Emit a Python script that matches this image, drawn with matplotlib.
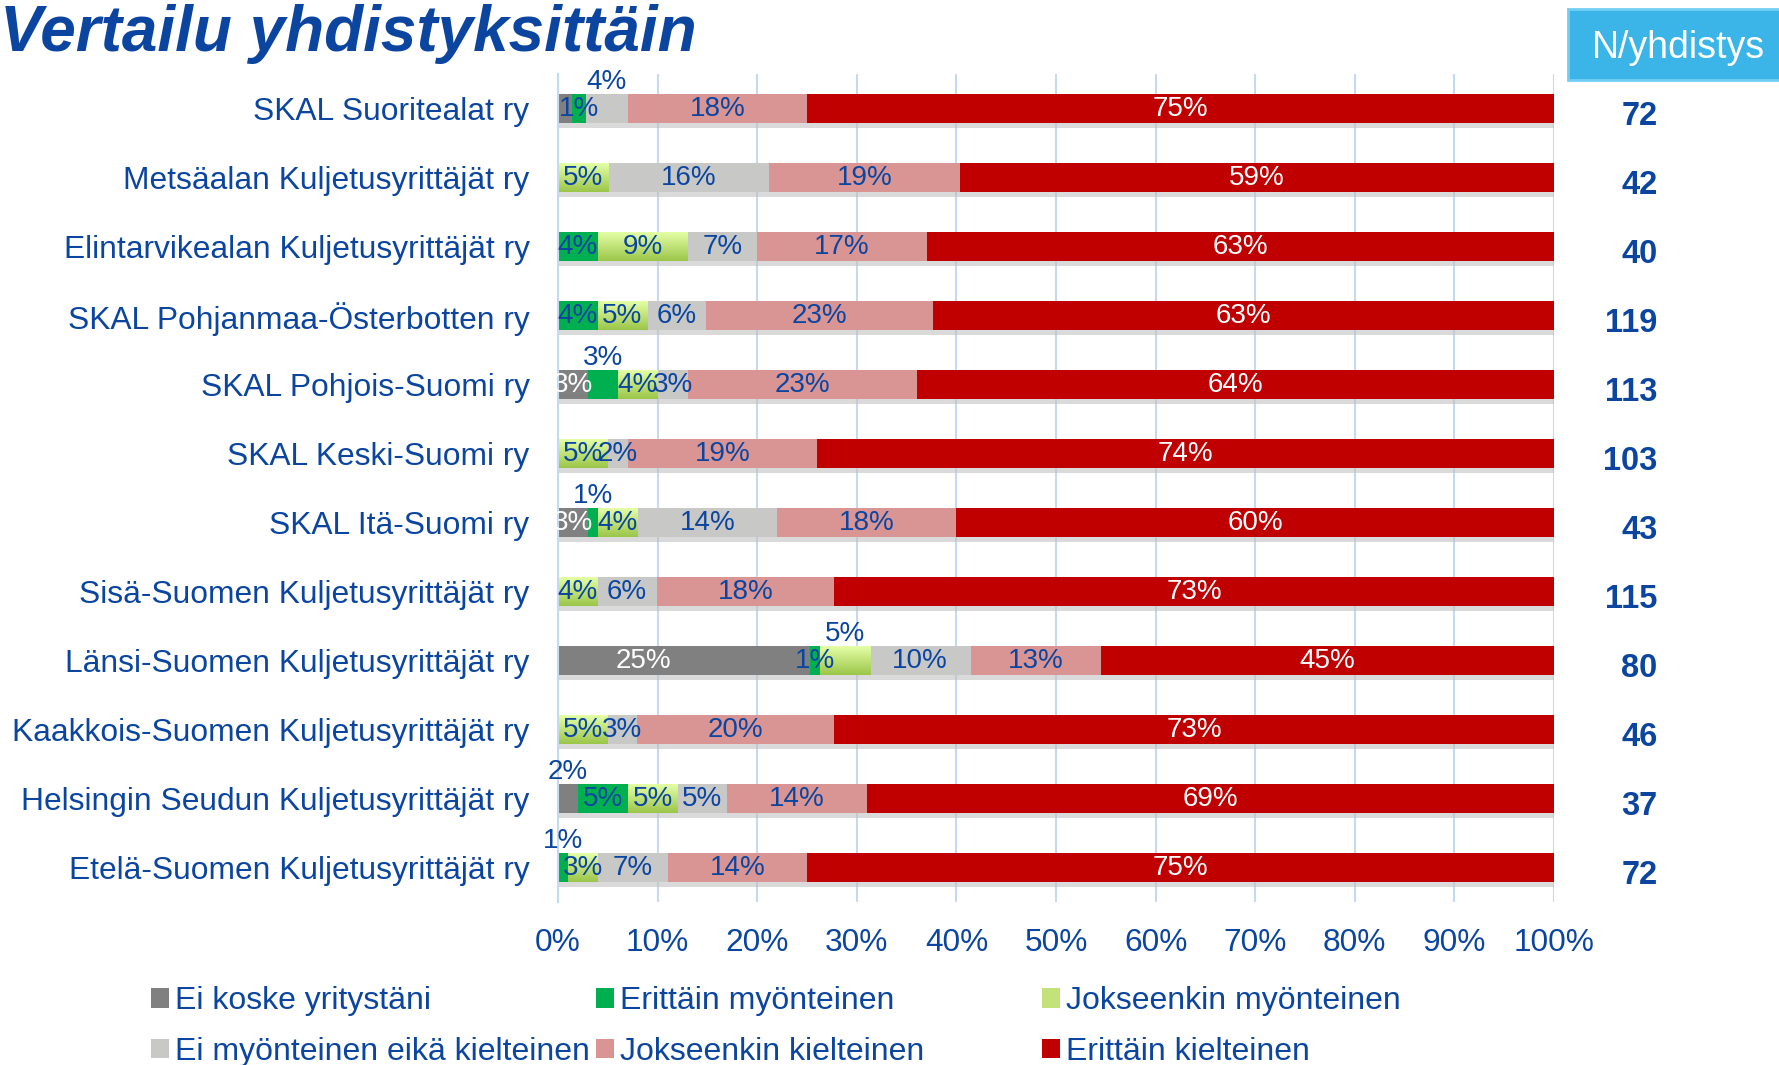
import matplotlib
matplotlib.use("Agg")
import matplotlib.pyplot as plt
import numpy as np
from matplotlib.colors import LinearSegmentedColormap
from matplotlib.patches import Patch, Rectangle

plt.rcParams["font.family"] = ["Liberation Sans", "DejaVu Sans"]

categories = [
    "SKAL Suoritealat ry",
    "Metsäalan Kuljetusyrittäjät ry",
    "Elintarvikealan Kuljetusyrittäjät ry",
    "SKAL Pohjanmaa-Österbotten ry",
    "SKAL Pohjois-Suomi ry",
    "SKAL Keski-Suomi ry",
    "SKAL Itä-Suomi ry",
    "Sisä-Suomen Kuljetusyrittäjät ry",
    "Länsi-Suomen Kuljetusyrittäjät ry",
    "Kaakkois-Suomen Kuljetusyrittäjät ry",
    "Helsingin Seudun Kuljetusyrittäjät ry",
    "Etelä-Suomen Kuljetusyrittäjät ry",
]
series_names = [
    "Ei koske yritystäni",
    "Erittäin myönteinen",
    "Jokseenkin myönteinen",
    "Ei myönteinen eikä kielteinen",
    "Jokseenkin kielteinen",
    "Erittäin kielteinen",
]
ei_koske = [1.4, 0, 0, 0, 3, 0, 3, 0, 25, 0, 2, 0]
erittain_myont = [1.4, 0, 4, 4, 3, 0, 1, 0, 1, 0, 5, 1]
jokseenkin_myont = [0, 5, 9, 5, 4, 5, 4, 4, 5, 5, 5, 3]
neutraali = [4.2, 16, 7, 6, 3, 2, 14, 6, 10, 3, 5, 7]
jokseenkin_kielt = [18, 19, 17, 23, 23, 19, 18, 18, 13, 20, 14, 14]
erittain_kielt = [75, 59, 63, 63, 64, 74, 60, 73, 45, 73, 69, 75]
n_values = [72, 42, 40, 119, 113, 103, 43, 115, 80, 46, 37, 72]

# labels drawn above the bar (row, series), one hidden overlapping label,
# and one label that sits off-centre in its segment
raised = {(0, 3), (4, 1), (6, 1), (8, 2), (10, 0), (11, 1)}
hidden = {(0, 0)}
label_frac = {(8, 0): 0.34}

BLUE = "#0B45A0"
colors = ["#808080", "#00B050", "#C4E27A", "#C8C8C6", "#D99594", "#C00000"]
label_colors = ["white", BLUE, BLUE, BLUE, BLUE, "white"]
green_grad = LinearSegmentedColormap.from_list("lg", ["#E4FFA6", "#9CC64A"])

data = np.array([ei_koske, erittain_myont, jokseenkin_myont,
                 neutraali, jokseenkin_kielt, erittain_kielt], dtype=float)
pct = data / data.sum(axis=0) * 100  # 100 % stacked

fig = plt.figure(figsize=(17.79, 10.65), dpi=100)
ax = fig.add_axes([0.3137, 0.153, 0.5598, 0.7775])

y = np.arange(len(categories))
bh = 0.41

# soft shadow under each bar
ax.barh(y + 0.08, pct.sum(axis=0), height=bh, color="#BDBDBD", alpha=0.55,
        zorder=1)

left = np.zeros(len(categories))
for i, name in enumerate(series_names):
    bars = ax.barh(y, pct[i], left=left, height=bh, color=colors[i],
                   label=name, zorder=2)
    if i == 2:
        grad = np.linspace(0, 1, 64).reshape(-1, 1)
        for r in bars:
            if r.get_width() <= 0:
                continue
            x0, y0 = r.get_x(), r.get_y()
            im = ax.imshow(grad, cmap=green_grad, aspect="auto",
                           extent=[x0, x0 + r.get_width(), y0 + bh, y0],
                           zorder=2.5)
            im.set_clip_path(r)
    for j in range(len(categories)):
        v = data[i, j]
        if v <= 0 or (j, i) in hidden:
            continue
        cx = left[j] + pct[i, j] * label_frac.get((j, i), 0.5)
        txt = f"{v:.0f}%"
        if (j, i) in raised:
            ax.text(cx, y[j] - 0.39, txt, ha="center", va="center",
                    fontsize=20, color=BLUE, zorder=4)
        else:
            ax.text(cx, y[j], txt, ha="center", va="center",
                    fontsize=20, color=label_colors[i], zorder=4)
    left += pct[i]

ax.set_xlim(0, 100)
ax.set_ylim(len(categories) - 0.5, -0.5)
ax.set_xticks(np.arange(0, 101, 10))
ax.set_xticklabels([f"{t}%" for t in range(0, 101, 10)])
ax.set_yticks(y)
ax.set_yticklabels(categories)
ax.tick_params(axis="x", length=0, pad=18.5, labelsize=22.8, labelcolor=BLUE)
ax.tick_params(axis="y", length=0, pad=20.5, labelsize=22.9, labelcolor=BLUE)
ax.grid(axis="x", color="#C6D9F1", linewidth=1.5, zorder=0)
ax.set_axisbelow(True)
for s in ["top", "right", "bottom"]:
    ax.spines[s].set_visible(False)
ax.spines["left"].set_color("#C6D9F1")
ax.spines["left"].set_linewidth(1.5)

# N per association
for j, n in enumerate(n_values):
    ax.text(1.104, y[j] + 0.11, str(n), transform=ax.get_yaxis_transform(),
            ha="right", va="center", fontsize=23.5, fontweight="bold", color=BLUE)

fig.patches.append(Rectangle((0.8814, 0.925), 0.13, 0.0665, transform=fig.transFigure,
                             facecolor="#3BB4E8", edgecolor="#74CEF3", linewidth=2))
fig.text(0.9436, 0.955, "N/yhdistys", ha="center", va="center", fontsize=27,
         color="white")

fig.text(0.0, 0.968, "Vertailu yhdistyksittäin", ha="left", va="center",
         fontsize=46, fontweight="bold", fontstyle="italic", color=BLUE)

# legend in three fixed columns
handles = [Patch(facecolor=c) for c in colors]
cols_x = [0.0849, 0.335, 0.5857]
for k, x in enumerate(cols_x):
    idx = [k, k + 3]
    fig.legend([handles[i] for i in idx], [series_names[i] for i in idx],
               loc="center left", bbox_to_anchor=(x, 0.036), frameon=False,
               fontsize=23, labelcolor=BLUE, handlelength=0.55,
               handleheight=0.55, handletextpad=0.2, borderpad=0,
               borderaxespad=0, labelspacing=0.65)

fig.savefig("out.png", dpi=100)
